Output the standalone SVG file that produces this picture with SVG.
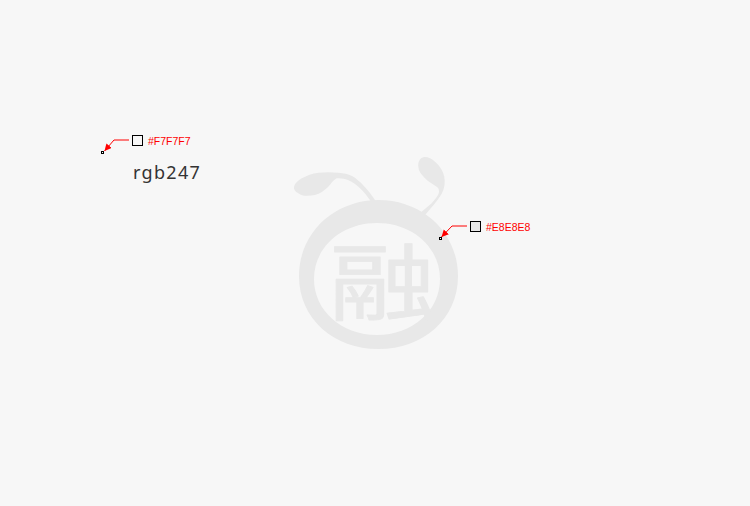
<svg xmlns="http://www.w3.org/2000/svg" width="750" height="506" viewBox="0 0 750 506">
<style>
.logo{fill:#E8E8E8}
.lead{fill:none;stroke:#F00;stroke-width:1}
.swatch{stroke:#000;stroke-width:1}
.dot{fill:#fff;stroke:#000;stroke-width:1}
.hex{font-family:"Liberation Sans",Arial,sans-serif;font-size:10.500px;fill:#F00}
.cap{font-family:"Noto Sans","Open Sans",sans-serif;font-size:18px;letter-spacing:1.300px;fill:#333}
</style>
<defs>
<marker id="arrow" markerUnits="userSpaceOnUse" markerWidth="8" markerHeight="8" refX="7" refY="3.500" orient="auto"><path d="M0 0L7 3.500L0 7Z" fill="#F00"/></marker>
</defs>
<rect width="750" height="506" fill="#F7F7F7"/>
<g id="logo">
<path class="logo" d="M372 203C368 197 364 192 360 188.300C356 184.500 352 181.500 348 180C344 178.500 340 177.800 336.700 178.300C333 180 331 184 328.300 186.700C324 190.500 320 194 315 195C308 196.500 301 196 298.300 193.300C295 191.500 293.500 189 294 186.700C295 183 298 180.500 301.700 178.300C307 175.500 312 173.500 318.300 172.700C325 172 332 172 338.300 172.700C344 173.300 348 174 352 176C356 178 360 182 363 185C367 189 372 195 377 203Z"/>
<path class="logo" d="M419 214L431.700 203.300C435 199 439 195 439 191.700C439 189 438.500 188 436.700 186.700C432 183.500 428 181.500 425 178.300C421 174 418.500 171 418.300 166.700C418 162 419.500 158.500 423.300 157.300C427 156.500 431.500 158.500 435 161.700C440 166 443 171 444.300 176.700C445 182 444.800 186 443.300 190C441.500 195 438 199.500 435 203.300L425 215Z"/>
<path class="logo" fill-rule="evenodd" d="M378.500 200C334 200 299 233 299 276C299 319 334 349 378.500 349C423 349 458 319 458 276C458 233 423 200 378.500 200ZM377 223C412 223 440 247 440 279C440 311 412 335 377 335C342 335 314 311 314 279C314 247 342 223 377 223Z"/>
<text class="logo" transform="translate(382.500 313.500) scale(1.070 0.840)" text-anchor="middle" font-size="100" font-weight="400" stroke="#E8E8E8" stroke-width="1" stroke-linejoin="round" font-family="'Noto Sans CJK SC','Noto Sans CJK JP',sans-serif">融</text>
</g>
<g id="connectors">
<path class="lead" marker-end="url(#arrow)" d="M129 140H114L104.500 151"/>
<path class="lead" marker-end="url(#arrow)" d="M467 226H452L441.500 237"/>
</g>
<g id="swatch-f7">
<rect class="dot" x="101.500" y="151.500" width="2" height="2"/>
<rect class="swatch" x="132.500" y="135.500" width="10" height="10" fill="#F7F7F7"/>
<text class="hex" x="148" y="145">#F7F7F7</text>
<text class="cap" x="133" y="179">rgb247</text>
</g>
<g id="swatch-e8">
<rect class="dot" x="439.500" y="237.500" width="2" height="2"/>
<rect class="swatch" x="470.500" y="221.500" width="10" height="10" fill="#E8E8E8"/>
<text class="hex" x="486" y="231">#E8E8E8</text>
</g>
</svg>
